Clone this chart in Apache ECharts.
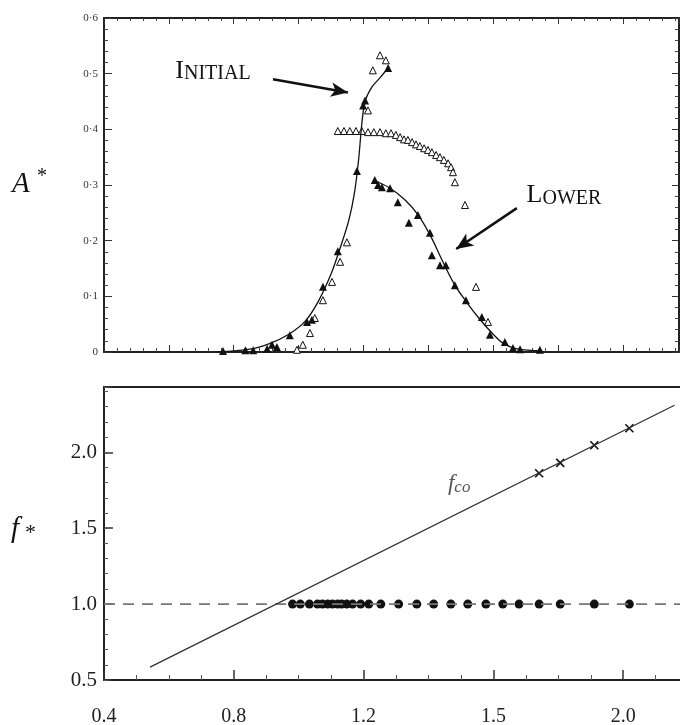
<!DOCTYPE html>
<html>
<head>
<meta charset="utf-8">
<script src="https://cdn.jsdelivr.net/npm/echarts@6/dist/echarts.min.js"></script>
<style>
html, body { margin: 0; padding: 0; background: #fff; }
#main { width: 680px; height: 725px; }
</style>
</head>
<body>
<div id="main"></div>
<script>
var SERIF = "'Liberation Serif', 'DejaVu Serif', serif";
var INK = '#111';

// upper panel: A* against the reduced velocity
var initialCurve = [
  [0.75, 0.0], [0.85, 0.005], [0.91, 0.015], [0.97, 0.032], [1.02, 0.055],
  [1.06, 0.09], [1.10, 0.14], [1.13, 0.19], [1.155, 0.237], [1.172, 0.285],
  [1.185, 0.345], [1.195, 0.41], [1.205, 0.45], [1.225, 0.475], [1.25, 0.492],
  [1.276, 0.51]
];
var lowerCurve = [
  [1.229, 0.309], [1.28, 0.295], [1.33, 0.272], [1.37, 0.245], [1.41, 0.205],
  [1.44, 0.168], [1.48, 0.122], [1.52, 0.088], [1.56, 0.058], [1.60, 0.032],
  [1.63, 0.016], [1.67, 0.006], [1.75, 0.002]
];
var filledTriangles = [
  [0.767, 0.002], [0.836, 0.003], [0.86, 0.003], [0.903, 0.006], [0.918, 0.013],
  [0.933, 0.009], [0.973, 0.03], [1.026, 0.054], [1.041, 0.058], [1.075, 0.117],
  [1.121, 0.181], [1.18, 0.325], [1.199, 0.443], [1.205, 0.452], [1.276, 0.51],
  [1.235, 0.309], [1.245, 0.300], [1.257, 0.296], [1.282, 0.294], [1.306, 0.269],
  [1.368, 0.246], [1.340, 0.232], [1.405, 0.214], [1.411, 0.174], [1.436, 0.156],
  [1.454, 0.156], [1.482, 0.120], [1.516, 0.093], [1.565, 0.063], [1.590, 0.031],
  [1.636, 0.018], [1.661, 0.007], [1.683, 0.005], [1.744, 0.004]
];
var openTriangles = [
  [0.995, 0.004], [1.013, 0.013], [1.035, 0.034], [1.05, 0.061], [1.075, 0.093],
  [1.103, 0.126], [1.128, 0.162], [1.149, 0.197], [1.214, 0.434],
  [1.229, 0.506], [1.251, 0.533], [1.269, 0.524],
  [1.121, 0.397], [1.140, 0.397], [1.158, 0.397], [1.177, 0.397], [1.195, 0.397],
  [1.214, 0.395], [1.232, 0.395], [1.251, 0.395], [1.269, 0.393], [1.285, 0.393],
  [1.300, 0.390], [1.313, 0.386], [1.325, 0.382], [1.337, 0.381], [1.350, 0.377],
  [1.362, 0.373], [1.374, 0.370], [1.387, 0.366], [1.399, 0.363], [1.411, 0.359],
  [1.424, 0.354], [1.436, 0.350], [1.448, 0.345], [1.461, 0.339], [1.470, 0.332],
  [1.476, 0.323], [1.482, 0.305],
  [1.513, 0.264], [1.547, 0.117], [1.584, 0.054]
];
var aTickLabels = ['0', '0·1', '0·2', '0·3', '0·4', '0·5', '0·6'];

// lower panel: f* against the reduced velocity
var fcoLine = [[0.542, 0.585], [2.158, 2.31]];
var unitLine = [[0.4, 1.0], [2.4, 1.0]];
var circleX = [
  0.981, 1.005, 1.033, 1.058, 1.073, 1.089, 1.104, 1.12, 1.132, 1.148,
  1.166, 1.191, 1.216, 1.253, 1.308, 1.364, 1.416, 1.469, 1.521, 1.577,
  1.629, 1.679, 1.741, 1.806, 1.911, 2.019
];
var crosses = [[1.741, 1.862], [1.806, 1.93], [1.911, 2.046], [2.019, 2.158]];
var xTickValues = [0.4, 0.8, 1.2, 1.6, 2.0];
var xTickLabels = ['0.4', '0.8', '1.2', '1.5', '2.0'];

var myChart = echarts.init(document.getElementById('main'));

function frameAxis(extra) {
  var base = {
    axisLine: { show: true, onZero: false, lineStyle: { color: '#222', width: 2 } },
    axisTick: { show: true, inside: true, length: 7, lineStyle: { color: '#333', width: 1 } },
    minorTick: { show: true, splitNumber: 5, length: 4, lineStyle: { color: '#444', width: 1 } },
    axisLabel: { show: false },
    splitLine: { show: false },
    minorSplitLine: { show: false }
  };
  return Object.assign(base, extra);
}

var crossPath = 'path://M0,0L10,10M10,0L0,10';

myChart.setOption({
  backgroundColor: '#fff',
  animation: false,
  grid: [
    { left: 104, top: 18, width: 575, height: 334, outerBoundsMode: 'none', containLabel: false },
    { left: 104, top: 387, width: 649, height: 293, outerBoundsMode: 'none', containLabel: false }
  ],
  xAxis: [
    frameAxis({ type: 'value', gridIndex: 0, position: 'bottom', min: 0.4, max: 2.173, interval: 0.2 }),
    frameAxis({ type: 'value', gridIndex: 0, position: 'top', min: 0.4, max: 2.173, interval: 0.2,
      axisTick: { show: true, inside: true, length: 6, lineStyle: { color: '#333' } },
      minorTick: { show: true, splitNumber: 5, length: 3, lineStyle: { color: '#444' } } }),
    frameAxis({ type: 'value', gridIndex: 1, position: 'bottom', min: 0.4, max: 2.4, interval: 0.4,
      axisTick: { show: true, inside: true, length: 10, lineStyle: { color: '#333', width: 1.5 } },
      minorTick: { show: true, splitNumber: 4, length: 5, lineStyle: { color: '#555' } },
      axisLabel: {
        show: true, margin: 27, color: '#222', fontFamily: SERIF, fontSize: 20,
        formatter: function (v) {
          for (var i = 0; i < xTickValues.length; i++) {
            if (Math.abs(v - xTickValues[i]) < 1e-6) return xTickLabels[i];
          }
          return '';
        }
      } }),
    frameAxis({ type: 'value', gridIndex: 1, position: 'top', min: 0.4, max: 2.4, interval: 0.4,
      axisTick: { show: false }, minorTick: { show: false } })
  ],
  yAxis: [
    frameAxis({ type: 'value', gridIndex: 0, position: 'left', min: 0, max: 0.6, interval: 0.1,
      axisTick: { show: true, inside: true, length: 8, lineStyle: { color: '#333' } },
      axisLabel: {
        show: true, margin: 6, color: '#333', fontFamily: SERIF, fontSize: 11,
        formatter: function (v) { return aTickLabels[Math.round(v * 10)]; }
      } }),
    frameAxis({ type: 'value', gridIndex: 0, position: 'right', min: 0, max: 0.6, interval: 0.1 }),
    frameAxis({ type: 'value', gridIndex: 1, position: 'left', min: 0.5, max: 2.43, interval: 0.5,
      axisTick: { show: true, inside: true, length: 9, lineStyle: { color: '#333', width: 1.5 } },
      minorTick: { show: false },
      axisLabel: {
        show: true, margin: 7, color: '#222', fontFamily: SERIF, fontSize: 21,
        formatter: function (v) {
          return Math.abs(v * 2 - Math.round(v * 2)) < 1e-6 ? v.toFixed(1) : '';
        }
      } }),
    frameAxis({ type: 'value', gridIndex: 1, position: 'left', min: 0.5, max: 2.43, interval: 0.1,
      axisLine: { show: false, onZero: false },
      axisTick: { show: true, inside: true, length: 4, lineStyle: { color: '#555' } },
      minorTick: { show: false } })
  ],
  graphic: [
    { type: 'text', left: 12, top: 170, style: {
        text: 'A', font: 'italic 29px ' + SERIF, fill: INK } },
    { type: 'text', left: 37, top: 167, style: {
        text: '*', font: '20px ' + SERIF, fill: INK } },
    { type: 'text', left: 11, top: 515, style: {
        text: 'f', font: 'italic 29px ' + SERIF, fill: INK } },
    { type: 'text', left: 25, top: 522, style: {
        text: '*', font: '22px ' + SERIF, fill: INK } }
  ],
  series: [
    {
      type: 'line', name: 'initial', xAxisIndex: 0, yAxisIndex: 0,
      data: initialCurve, smooth: 0.3, showSymbol: false, silent: true,
      lineStyle: { color: INK, width: 1.3 },
      markLine: {
        silent: true, symbol: ['none', 'arrow'], symbolSize: [11, 17],
        lineStyle: { color: INK, width: 2.5, type: 'solid' }, label: { show: false },
        data: [
          [{ coord: [0.921, 0.49] }, { coord: [1.152, 0.466] }],
          [{ coord: [1.673, 0.2585] }, { coord: [1.486, 0.185] }]
        ]
      },
      markPoint: {
        silent: true, symbol: 'circle', symbolSize: 0,
        label: {
          show: true, position: 'right', distance: 0, color: INK,
          rich: {
            b: { fontFamily: SERIF, fontSize: 26, color: INK },
            s: { fontFamily: SERIF, fontSize: 20, color: INK, verticalAlign: 'bottom' }
          }
        },
        data: [
          { coord: [0.62, 0.505], label: { formatter: '{b|I}{s|NITIAL}' } },
          { coord: [1.703, 0.281], label: { formatter: '{b|L}{s|OWER}' } }
        ]
      }
    },
    {
      type: 'line', name: 'lower', xAxisIndex: 0, yAxisIndex: 0,
      data: lowerCurve, smooth: 0.4, showSymbol: false, silent: true,
      lineStyle: { color: INK, width: 1.3 }
    },
    {
      type: 'scatter', name: 'open', xAxisIndex: 0, yAxisIndex: 0,
      data: openTriangles, symbol: 'triangle', symbolSize: 7,
      itemStyle: { color: '#fff', borderColor: INK, borderWidth: 1, opacity: 1 }
    },
    {
      type: 'scatter', name: 'filled', xAxisIndex: 0, yAxisIndex: 0,
      data: filledTriangles, symbol: 'triangle', symbolSize: 8,
      itemStyle: { color: INK, opacity: 1 }
    },
    {
      type: 'line', name: 'unit', xAxisIndex: 2, yAxisIndex: 2,
      data: unitLine, showSymbol: false, silent: true,
      lineStyle: { color: '#777', width: 1.6, type: [11, 8] }
    },
    {
      type: 'line', name: 'fco', xAxisIndex: 2, yAxisIndex: 2,
      data: fcoLine, showSymbol: false, silent: true,
      lineStyle: { color: '#333', width: 1.3 },
      markPoint: {
        silent: true, symbol: 'circle', symbolSize: 0,
        label: {
          show: true, position: 'right', distance: 0,
          formatter: '{f|f}{s|co}',
          rich: {
            f: { fontFamily: SERIF, fontStyle: 'italic', fontSize: 23, color: '#555' },
            s: { fontFamily: SERIF, fontStyle: 'italic', fontSize: 17, color: '#555', verticalAlign: 'bottom' }
          }
        },
        data: [{ coord: [1.46, 1.79] }]
      }
    },
    {
      type: 'scatter', name: 'circles', xAxisIndex: 2, yAxisIndex: 2,
      data: circleX.map(function (x) { return [x, 1.0]; }),
      symbol: 'circle', symbolSize: 9, itemStyle: { color: INK, opacity: 1 }
    },
    {
      type: 'scatter', name: 'crosses', xAxisIndex: 2, yAxisIndex: 2,
      data: crosses, symbol: crossPath, symbolSize: 8,
      itemStyle: { color: 'transparent', borderColor: INK, borderWidth: 1.6, opacity: 1 }
    }
  ]
});
</script>
</body>
</html>
